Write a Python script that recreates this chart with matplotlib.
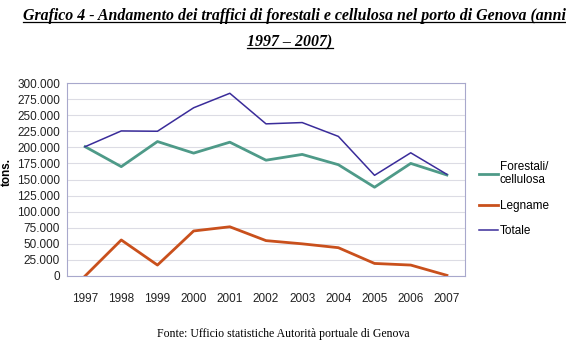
import matplotlib.pyplot as plt
from matplotlib.lines import Line2D
from matplotlib.ticker import FuncFormatter

years = [1997, 1998, 1999, 2000, 2001, 2002, 2003, 2004, 2005, 2006, 2007]
forestali = [201000, 170000, 209000, 191000, 208000, 180000, 189000, 173000, 138000, 175000, 157000]
legname = [0, 56000, 17000, 70000, 76500, 55000, 50000, 44000, 19500, 17000, 1000]
totale = [201000, 225500, 225000, 261500, 284000, 236500, 238500, 217000, 156500, 191500, 158000]

title_lines = ["Grafico 4 - Andamento dei traffici di forestali e cellulosa nel porto di Genova (anni",
               "1997 \u2013 2007)"]
source = "Fonte: Ufficio statistiche Autorit\u00e0 portuale di Genova"

W, H = 566, 343


def thousands(v, pos):
    if v == 0:
        return "0"
    return f"{int(v):,}".replace(",", ".")


def underlined(fig, x, y, text, **kw):
    t = fig.text(x, y, text, ha="center", va="baseline", **kw)
    fig.canvas.draw()
    bb = t.get_window_extent()
    uy = y - 2.2 / H
    fig.add_artist(Line2D([bb.x0 / W, bb.x1 / W], [uy, uy], color="black", lw=0.9))
    return t


fig = plt.figure(figsize=(W / 100, H / 100), dpi=100)
ax = fig.add_axes([67 / W, 1 - 276 / H, (465 - 67) / W, (276 - 83) / H])

ax.plot(years, forestali, color="#4e9a88", lw=2.0, label="Forestali/\ncellulosa")
ax.plot(years, legname, color="#c9501c", lw=2.0, label="Legname")
ax.plot(years, totale, color="#3a2c9a", lw=1.1, label="Totale")

ax.set_xlim(1996.5, 2007.5)
ax.set_ylim(0, 300000)
ax.set_yticks(range(0, 300001, 25000))
ax.yaxis.set_major_formatter(FuncFormatter(thousands))
ax.set_xticks(years)
ax.tick_params(length=0, labelsize=8.5, colors="#222222", pad=5)
ax.tick_params(axis="x", pad=12)
for lbl in ax.get_xticklabels() + ax.get_yticklabels():
    lbl.set_fontfamily("Liberation Sans")
ax.grid(axis="y", color="#dcdce4", lw=0.8)
ax.set_axisbelow(True)
for sp in ax.spines.values():
    sp.set_color("#a8a8cc")
    sp.set_linewidth(0.8)

ax.set_ylabel("tons.", fontsize=8.5, fontweight="bold", family="Liberation Sans")
ax.yaxis.set_label_coords(-0.136, 0.54)

ax.legend(loc="upper left", bbox_to_anchor=(468 / W, 1 - 150 / H), bbox_transform=fig.transFigure,
          frameon=False, handlelength=1.6, handletextpad=0.2, labelspacing=1.12,
          prop={"family": "Liberation Sans", "size": 8.5})

underlined(fig, 294 / W, 1 - 20 / H, title_lines[0], family="Liberation Serif",
           style="italic", weight="bold", fontsize=11.4)
underlined(fig, 290 / W, 1 - 46 / H, title_lines[1], family="Liberation Serif",
           style="italic", weight="bold", fontsize=11.4)
fig.text(283 / W, 1 - 337 / H, source, ha="center", va="baseline",
         family="Liberation Serif", fontsize=8.5)

fig.savefig("out.png", dpi=100)
